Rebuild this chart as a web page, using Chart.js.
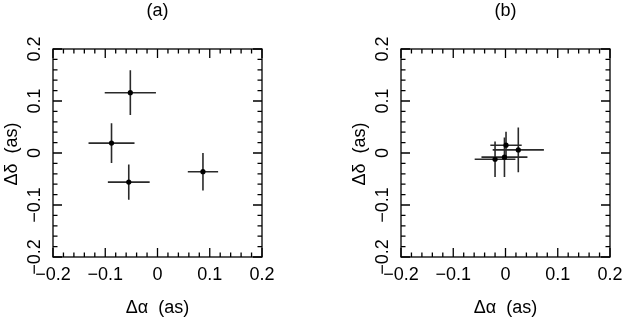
<!DOCTYPE html>
<html lang="en">
<head>
    <meta charset="UTF-8">
    <title>Offsets (a) and (b)</title>
    <script src="https://cdn.jsdelivr.net/npm/chart.js"></script>
    <style>
        body { margin: 0; background: #fff; overflow: hidden; }
        canvas { position: absolute; top: 0; }
    </style>
</head>
<body>
    <canvas id="chartA" width="300" height="318" style="left:0px"></canvas>
    <canvas id="chartB" width="275" height="318" style="left:348px"></canvas>
    <script>
        // offsets in arcsec
        var raA = [-0.052, -0.088, -0.055, 0.087];
        var decA = [0.116, 0.019, -0.056, -0.036];
        var raErrA = [0.049, 0.044, 0.040, 0.029];
        var decErrA = [0.043, 0.038, 0.034, 0.036];

        var raB = [0.001, 0.0245, -0.020, -0.002];
        var decB = [0.015, 0.006, -0.012, -0.008];
        var raErrB = [0.030, 0.049, 0.039, 0.044];
        var decErrB = [0.026, 0.043, 0.034, 0.038];

        var tickValues = [-0.2, -0.1, 0, 0.1, 0.2];
        var tickLabels = ['\u22120.2', '\u22120.1', '0', '0.1', '0.2'];
        var minorStep = 0.02;

        var FONT = '18px "Liberation Sans", Arial, sans-serif';

        function toPoints(xs, ys, exs, eys) {
            return xs.map(function(x, i) {
                return { x: x, y: ys[i], xErr: exs[i], yErr: eys[i] };
            });
        }

        // error bars, drawn under the points
        var errorBars = {
            id: 'errorBars',
            beforeDatasetsDraw: function(chart) {
                var ctx = chart.ctx, xs = chart.scales.x, ys = chart.scales.y;
                ctx.save();
                ctx.strokeStyle = '#2a2a2a';
                ctx.lineWidth = 1.6;
                chart.data.datasets[0].data.forEach(function(p) {
                    var px = xs.getPixelForValue(p.x), py = ys.getPixelForValue(p.y);
                    ctx.beginPath();
                    ctx.moveTo(xs.getPixelForValue(p.x - p.xErr), py);
                    ctx.lineTo(xs.getPixelForValue(p.x + p.xErr), py);
                    ctx.moveTo(px, ys.getPixelForValue(p.y - p.yErr));
                    ctx.lineTo(px, ys.getPixelForValue(p.y + p.yErr));
                    ctx.stroke();
                });
                ctx.restore();
            }
        };

        // box, inward ticks on all sides, labels and titles
        var frame = {
            id: 'frame',
            afterDraw: function(chart) {
                var ctx = chart.ctx, a = chart.chartArea;
                var xs = chart.scales.x, ys = chart.scales.y;
                ctx.save();
                ctx.strokeStyle = '#000';
                ctx.lineWidth = 1.3;
                ctx.strokeRect(a.left, a.top, a.right - a.left, a.bottom - a.top);

                ctx.beginPath();
                for (var k = -10; k <= 10; k++) {
                    var v = k * minorStep;
                    var len = (k % 5 === 0) ? 9 : 4.5;
                    var px = xs.getPixelForValue(v), py = ys.getPixelForValue(v);
                    ctx.moveTo(px, a.bottom); ctx.lineTo(px, a.bottom - len);
                    ctx.moveTo(px, a.top); ctx.lineTo(px, a.top + len);
                    ctx.moveTo(a.left, py); ctx.lineTo(a.left + len, py);
                    ctx.moveTo(a.right, py); ctx.lineTo(a.right - len, py);
                }
                ctx.stroke();

                ctx.fillStyle = '#000';
                ctx.font = FONT;
                ctx.textAlign = 'center';
                ctx.textBaseline = 'middle';
                tickValues.forEach(function(v, i) {
                    ctx.fillText(tickLabels[i], xs.getPixelForValue(v), a.bottom + 18);
                    ctx.save();
                    ctx.translate(a.left - 18, ys.getPixelForValue(v));
                    ctx.rotate(-Math.PI / 2);
                    ctx.fillText(tickLabels[i], 0, 0);
                    ctx.restore();
                });

                var cx = (a.left + a.right) / 2, cy = (a.top + a.bottom) / 2;
                ctx.fillText(chart.options.plugins.frame.panel, cx, 11);
                ctx.fillText('\u0394\u03b1  (as)', cx, a.bottom + 51);
                ctx.save();
                ctx.translate(12, cy + 1);
                ctx.rotate(-Math.PI / 2);
                ctx.fillText('\u0394\u03b4  (as)', 0, 0);
                ctx.restore();
                ctx.restore();
            }
        };

        function makeChart(id, panel, points, padRight) {
            return new Chart(document.getElementById(id).getContext('2d'), {
                type: 'scatter',
                data: {
                    datasets: [{
                        data: points,
                        backgroundColor: '#000',
                        borderColor: '#000',
                        pointRadius: 2.6,
                        pointBorderWidth: 0
                    }]
                },
                options: {
                    responsive: false,
                    animation: false,
                    devicePixelRatio: 1,
                    layout: { padding: { left: 53, right: padRight, top: 49, bottom: 61 } },
                    scales: {
                        x: { type: 'linear', min: -0.2, max: 0.2, display: false },
                        y: { type: 'linear', min: -0.2, max: 0.2, display: false }
                    },
                    plugins: {
                        legend: { display: false },
                        tooltip: { enabled: false },
                        frame: { panel: panel }
                    }
                },
                plugins: [errorBars, frame]
            });
        }

        makeChart('chartA', '(a)', toPoints(raA, decA, raErrA, decErrA), 38);
        makeChart('chartB', '(b)', toPoints(raB, decB, raErrB, decErrB), 13);
    </script>
</body>
</html>
